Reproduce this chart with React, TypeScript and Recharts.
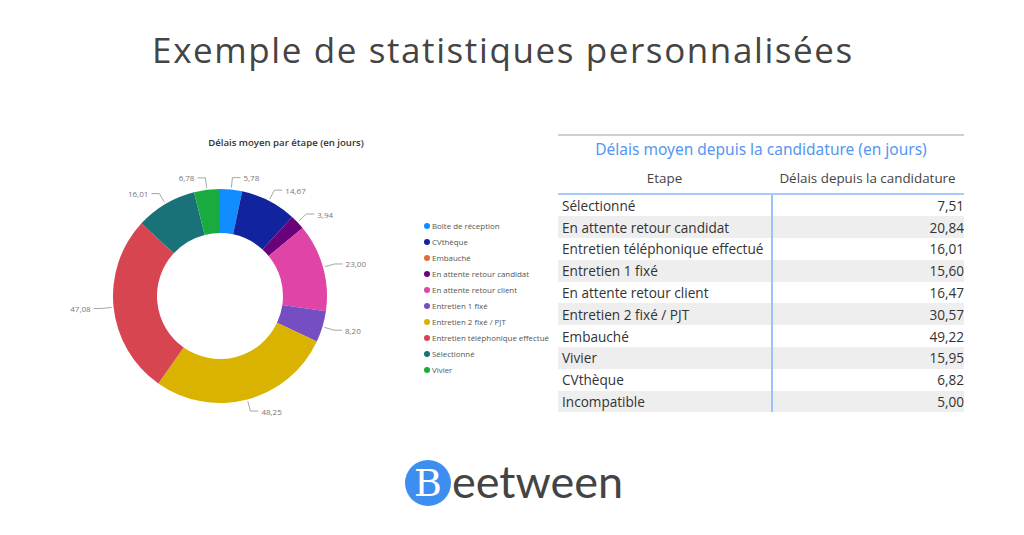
import React from 'react';
import { PieChart, Pie, Cell, Legend } from 'recharts';

// Donut data (alphabetical, as in the Power BI legend)
const stages = [
    'Boîte de réception',
    'CVthèque',
    'Embauché',
    'En attente retour candidat',
    'En attente retour client',
    'Entretien 1 fixé',
    'Entretien 2 fixé / PJT',
    'Entretien téléphonique effectué',
    'Sélectionné',
    'Vivier',
];
const stageDelays = [5.78, 14.67, 0, 3.94, 23.0, 8.2, 48.25, 47.08, 16.01, 6.78];
const stageColors = ['#118DFF', '#12239E', '#E66C37', '#6B007B', '#E044A7', '#744EC2', '#D9B300', '#D64550', '#197278', '#1AAB40'];

// Table data
const tableStages = [
    'Sélectionné',
    'En attente retour candidat',
    'Entretien téléphonique effectué',
    'Entretien 1 fixé',
    'En attente retour client',
    'Entretien 2 fixé / PJT',
    'Embauché',
    'Vivier',
    'CVthèque',
    'Incompatible',
];
const tableDelays = [7.51, 20.84, 16.01, 15.6, 16.47, 30.57, 49.22, 15.95, 6.82, 5.0];

const fmt = (v: number) => v.toFixed(2).replace('.', ',');
const RADIAN = Math.PI / 180;

const pieData = stages.map((name, i) => ({ name, value: stageDelays[i] }));

const renderLabel = (props: any) => {
    const { cx, cy, midAngle, outerRadius, value } = props;
    if (!value) return null;
    const cos = Math.cos(-midAngle * RADIAN);
    const sin = Math.sin(-midAngle * RADIAN);
    const sx = cx + (outerRadius + 2) * cos;
    const sy = cy + (outerRadius + 2) * sin;
    const mx = cx + (outerRadius + 12) * cos;
    const my = cy + (outerRadius + 12) * sin;
    const dir = cos >= 0 ? 1 : -1;
    const ex = mx + dir * 8;
    return (
        <g>
            <polyline points={`${sx},${sy} ${mx},${my} ${ex},${my}`} fill="none" stroke="#a6a6a6" strokeWidth={1} />
            <text
                x={ex + dir * 3}
                y={my}
                textAnchor={dir > 0 ? 'start' : 'end'}
                dominantBaseline="central"
                fill="#777"
                fontSize={8}
                fontFamily="'Open Sans', sans-serif"
            >
                {fmt(value)}
            </text>
        </g>
    );
};

const renderLegend = () => (
    <div style={{ fontFamily: "'Open Sans', sans-serif", fontSize: 7.9, color: '#555' }}>
        {stages.map((name, i) => (
            <div key={name} style={{ display: 'flex', alignItems: 'center', height: 16 }}>
                <span
                    style={{
                        width: 6,
                        height: 6,
                        borderRadius: 3,
                        background: stageColors[i],
                        marginRight: 2,
                        display: 'inline-block',
                    }}
                />
                <span style={{ whiteSpace: 'nowrap' }}>{name}</span>
            </div>
        ))}
    </div>
);

const DonutChart = () => (
    <PieChart width={570} height={440} margin={{ top: 0, right: 0, bottom: 0, left: 0 }}>
        <text
            x={286}
            y={42}
            textAnchor="middle"
            dominantBaseline="central"
            fontSize={9.6}
            fontWeight={600}
            fill="#333"
            fontFamily="'Open Sans', sans-serif"
        >
            Délais moyen par étape (en jours)
        </text>
        <Pie
            data={pieData}
            dataKey="value"
            nameKey="name"
            cx={220}
            cy={196}
            innerRadius={63}
            outerRadius={107}
            startAngle={90}
            endAngle={-270}
            stroke="none"
            label={renderLabel}
            labelLine={false}
            isAnimationActive={false}
        >
            {pieData.map((_entry, index) => (
                <Cell key={`cell-${index}`} fill={stageColors[index]} />
            ))}
        </Pie>
        <Legend
            layout="vertical"
            content={renderLegend}
            wrapperStyle={{ position: 'absolute', left: 424, top: 118, width: 150 }}
        />
    </PieChart>
);

const DelayTable = () => (
    <div style={{ position: 'absolute', left: 558, top: 134, width: 406, fontFamily: "'Open Sans', sans-serif" }}>
        <div style={{ height: 2, background: '#d0d0d0', width: 406 }} />
        <div
            style={{
                textAlign: 'center',
                color: '#5596f2',
                fontSize: 15.5,
                height: 26,
                lineHeight: '26px',
                fontFamily: "'Noto Sans', sans-serif",
            }}
        >
            Délais moyen depuis la candidature (en jours)
        </div>
        <div style={{ display: 'flex', height: 31, alignItems: 'center', color: '#444', fontSize: 13.4 }}>
            <div style={{ width: 213, textAlign: 'center' }}>Etape</div>
            <div style={{ width: 193, textAlign: 'center' }}>Délais depuis la candidature</div>
        </div>
        <div style={{ height: 1.5, background: '#a8cbf7' }} />
        <div style={{ position: 'relative' }}>
            {tableStages.map((name, i) => (
                <div
                    key={name}
                    style={{
                        display: 'flex',
                        height: 21.8,
                        alignItems: 'center',
                        background: i % 2 === 1 ? '#eeeeee' : '#ffffff',
                        color: '#333',
                        fontSize: 13.6,
                    }}
                >
                    <div style={{ width: 213, paddingLeft: 4, whiteSpace: 'nowrap' }}>{name}</div>
                    <div style={{ width: 189, textAlign: 'right' }}>{fmt(tableDelays[i])}</div>
                </div>
            ))}
            <div style={{ position: 'absolute', left: 213, top: 0, bottom: 0, width: 1.5, background: '#9cc3f7' }} />
        </div>
    </div>
);

export default function App() {
    return (
        <div
            style={{
                position: 'absolute',
                left: 0,
                top: 0,
                width: 1024,
                height: 535,
                background: '#ffffff',
                overflow: 'hidden',
            }}
        >
            <div
                style={{
                    position: 'absolute',
                    left: 0,
                    top: 26,
                    width: 1006,
                    textAlign: 'center',
                    fontFamily: "'Open Sans', sans-serif",
                    fontSize: 35,
                    color: '#444',
                    letterSpacing: 1.6,
                }}
            >
                Exemple de statistiques personnalisées
            </div>
            <div style={{ position: 'absolute', left: 0, top: 100 }}>
                <DonutChart />
            </div>
            <DelayTable />
            <div style={{ position: 'absolute', left: 405, top: 460, display: 'flex', alignItems: 'center' }}>
                <div
                    style={{
                        width: 46,
                        height: 46,
                        borderRadius: 23,
                        background: '#3d8ef0',
                        color: '#fff',
                        fontFamily: "'DejaVu Serif', serif",
                        fontSize: 38,
                        lineHeight: '46px',
                        textAlign: 'center',
                    }}
                >
                    B
                </div>
                <div style={{ fontFamily: 'Lato, sans-serif', fontSize: 45, color: '#444', marginLeft: 1, lineHeight: '46px', marginTop: -4 }}>
                    eetween
                </div>
            </div>
        </div>
    );
}
